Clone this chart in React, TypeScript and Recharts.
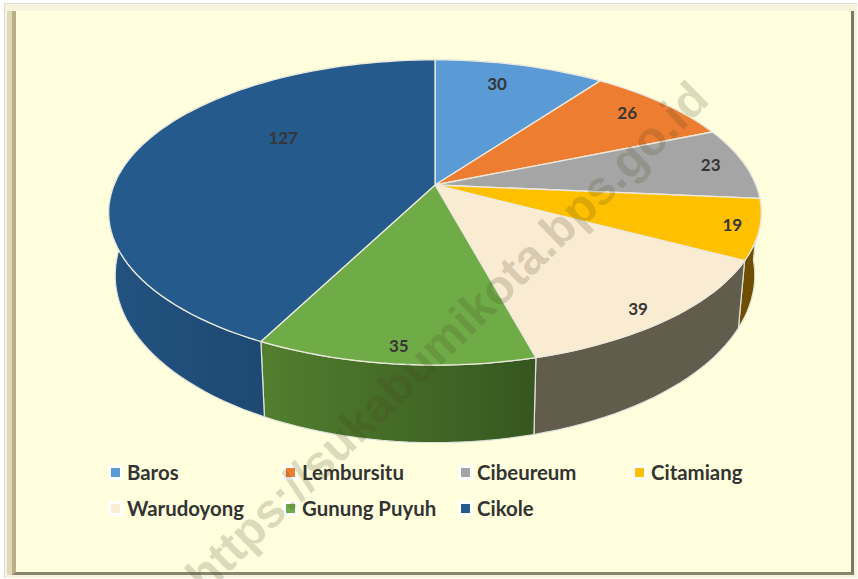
import React from "react";
import { PieChart, Pie, Legend } from "recharts";

const DISTRICTS = ["Baros", "Lembursitu", "Cibeureum", "Citamiang", "Warudoyong", "Gunung Puyuh", "Cikole"];
const COUNTS = [30, 26, 23, 19, 39, 35, 127];
const TOP_COLORS = ["#5b9bd5", "#ed7d31", "#a5a5a5", "#ffc000", "#faecd2", "#6fab46", "#245a8c"];
const WALL_START = ["#3a6a96", "#a0561f", "#707070", "#7a5600", "#6b6553", "#527e2e", "#235280"];
const WALL_END = ["#3a6a96", "#a0561f", "#707070", "#6e4e00", "#625c4c", "#35561f", "#1d4972"];

const rows = DISTRICTS.map((name, i) => ({ name, value: COUNTS[i], fill: TOP_COLORS[i] }));

// pie is tilted with perspective: near edge is bigger than the far edge
const PERSPECTIVE = 0.18;
const TILT_TOP = 0.46;
const BOTTOM_DX_SCALE = 0.98;
const BOTTOM_TILT = 0.505;
const BOTTOM_DROP = 60;

const project = (cx: number, cy: number, r: number, angle: number, frac = 1, bottom = false) => {
  const rad = (angle * Math.PI) / 180;
  const u = Math.cos(rad) * frac;
  const v = -Math.sin(rad) * frac;
  const w = 1 - PERSPECTIVE * v;
  if (bottom) return [cx + (r * BOTTOM_DX_SCALE * u) / w, cy + BOTTOM_DROP + (r * BOTTOM_TILT * v) / w];
  return [cx + (r * u) / w, cy + (r * TILT_TOP * v) / w];
};

const rim = (cx: number, cy: number, r: number, from: number, to: number, bottom: boolean) => {
  const steps = Math.max(2, Math.ceil(Math.abs(to - from) / 2));
  const pts: string[] = [];
  for (let i = 0; i <= steps; i++) {
    const [x, y] = project(cx, cy, r, from + ((to - from) * i) / steps, 1, bottom);
    pts.push(`${x.toFixed(1)} ${y.toFixed(1)}`);
  }
  return pts;
};

const TopSlice = (props: any) => {
  const { cx, cy, outerRadius, startAngle, endAngle, fill } = props;
  const d = `M${cx} ${cy} L${rim(cx, cy, outerRadius, startAngle, endAngle, false).join(" L")} Z`;
  return <path d={d} fill={fill} stroke="#ece9dc" strokeWidth={1.3} strokeLinejoin="round" />;
};

const WallSlice = (props: any) => {
  const { cx, cy, outerRadius, startAngle, endAngle, index } = props;
  const top = rim(cx, cy, outerRadius, startAngle, endAngle, false);
  const bot = rim(cx, cy, outerRadius, endAngle, startAngle, true);
  const d = `M${top.join(" L")} L${bot.join(" L")} Z`;
  return <path d={d} fill={`url(#wall${index})`} stroke="#dfe3dc" strokeWidth={1.2} strokeLinejoin="round" />;
};

// where each value sits, as a fraction of the radius plus a small nudge
const LABEL_FRAC = [0.8, 0.8, 0.88, 0.9, 0.9, 0.9, 0.5];
const LABEL_NUDGE = [[-8, -3], [7, -5], [3, -1], [7, 0], [-3, 4], [0, 3], [1, -31]];

const SliceLabel = (props: any) => {
  const { cx, cy, outerRadius, midAngle, value, index } = props;
  const [x, y] = project(cx, cy, outerRadius, midAngle, LABEL_FRAC[index]);
  return (
    <text
      x={x + LABEL_NUDGE[index][0]}
      y={y + LABEL_NUDGE[index][1]}
      textAnchor="middle"
      dominantBaseline="central"
      fill="#363636"
      style={{ fontFamily: "Lato, sans-serif", fontWeight: 700, fontSize: 17 }}
    >
      {value}
    </text>
  );
};

const LegendGrid = ({ payload }: any) => {
  const seen = new Set<string>();
  const items = (payload ?? []).filter((e: any) => {
    if (seen.has(e.value)) return false;
    seen.add(e.value);
    return true;
  });
  return (
    <div style={{ position: "relative", width: 858, height: 80 }}>
      {items.map((entry: any, i: number) => (
        <div
          key={entry.value}
          style={{
            position: "absolute",
            left: [108, 283, 458, 632][i % 4],
            top: i < 4 ? 0 : 36,
            display: "flex",
            alignItems: "center",
            height: 24,
            gap: 4,
          }}
        >
          <span style={{ width: 15, height: 15, background: "#fff", display: "flex", alignItems: "center", justifyContent: "center" }}>
            <span style={{ width: 9, height: 9, background: entry.color, display: "block" }} />
          </span>
          <span style={{ fontFamily: "Lato, sans-serif", fontWeight: 700, fontSize: 20.4, color: "#333", whiteSpace: "nowrap" }}>
            {entry.value}
          </span>
        </div>
      ))}
    </div>
  );
};

export default function App() {
  return (
    <div style={{ position: "absolute", left: 0, top: 0, width: 858, height: 579, overflow: "hidden", background: "#fff" }}>
      <div style={{ position: "absolute", left: 4, top: 3, width: 853, height: 575, boxSizing: "border-box", background: "#f8f3dc", borderTop: "1px solid #ddd", borderLeft: "1px solid #ddd" }} />
      <div style={{ position: "absolute", left: 7, top: 11, width: 5, height: 564, background: "#e0d8b8" }} />
      <div
        style={{
          position: "absolute",
          left: 12,
          top: 11,
          width: 842,
          height: 564,
          boxSizing: "border-box",
          background: "#ffffdd",
          borderLeft: "4px solid #b9b08a",
          borderRight: "3px solid #7c7762",
          borderBottom: "3px solid #8a8570",
        }}
      />
      <div style={{ position: "absolute", left: 0, top: 0 }}>
        <PieChart width={858} height={579} margin={{ top: 0, left: 0, right: 0, bottom: 0 }}>
          <defs>
            {WALL_START.map((c, i) => (
              <linearGradient key={i} id={`wall${i}`} gradientUnits="userSpaceOnUse" x1={i === 6 ? 110 : 265} x2={i === 6 ? 265 : 540} y1={0} y2={0}>
                <stop offset="0%" stopColor={c} />
                <stop offset="100%" stopColor={WALL_END[i]} />
              </linearGradient>
            ))}
          </defs>
          <Pie
            data={rows}
            dataKey="value"
            nameKey="name"
            cx={435}
            cy={185}
            innerRadius={0}
            outerRadius={321}
            startAngle={90}
            endAngle={-270}
            paddingAngle={0}
            shape={WallSlice}
            legendType="none"
            isAnimationActive={false}
          />
          <Pie
            data={rows}
            dataKey="value"
            nameKey="name"
            cx={435}
            cy={185}
            innerRadius={0}
            outerRadius={321}
            startAngle={90}
            endAngle={-270}
            paddingAngle={0}
            shape={TopSlice}
            label={SliceLabel}
            labelLine={false}
            isAnimationActive={false}
          />
          <Legend content={LegendGrid} itemSorter={null} wrapperStyle={{ left: 0, top: 460, bottom: "auto", width: 858, height: 80 }} />
        </PieChart>
      </div>
      <div
        style={{
          position: "absolute",
          left: 194,
          top: 556,
          transform: "rotate(-44.3deg)",
          transformOrigin: "0 50%",
          fontFamily: "'Liberation Sans', sans-serif",
          fontWeight: 700,
          fontSize: 47.8,
          whiteSpace: "nowrap",
          color: "rgba(70,65,30,0.2)",
          pointerEvents: "none",
        }}
      >
        https://sukabumikota.bps.go.id
      </div>
    </div>
  );
}
